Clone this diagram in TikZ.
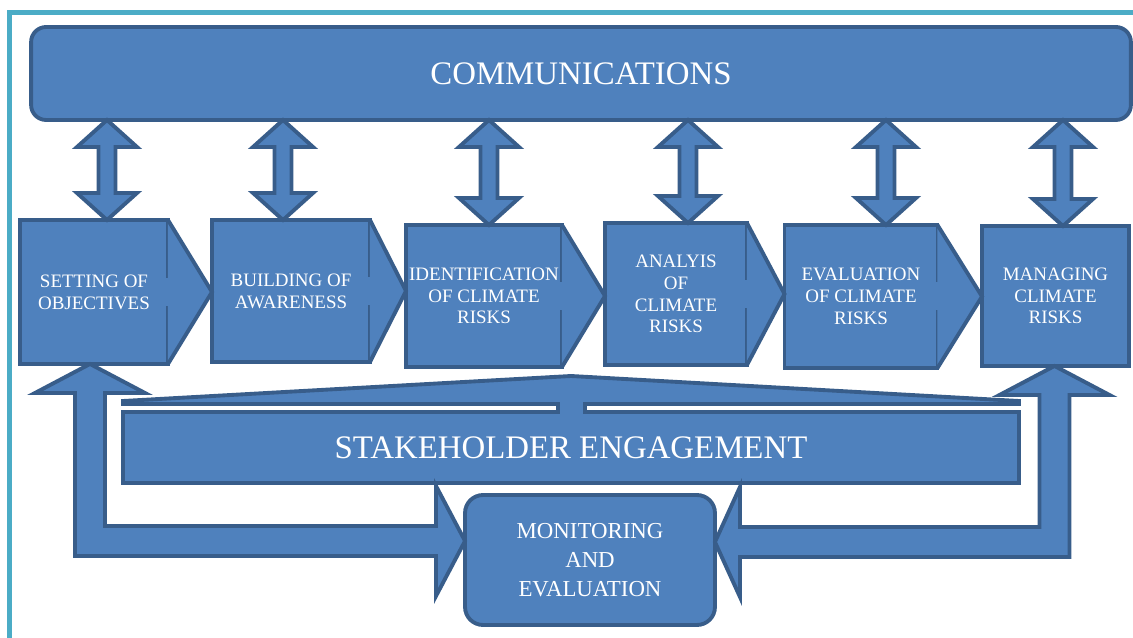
\documentclass[tikz,border=0pt]{standalone}
\usepackage{fontspec}
\setmainfont{Liberation Serif}
\usetikzlibrary{calc}
\definecolor{boxfill}{HTML}{4F81BD}
\definecolor{boxline}{HTML}{385D8A}
\definecolor{frameline}{HTML}{4BACC6}
\tikzset{
  blk/.style={fill=boxfill, draw=boxline, line width=2.2pt},
  title/.style={text=white, font=\fontsize{18.7}{22}\selectfont},
  stepbox/.style={blk, rectangle, inner sep=0pt, outer sep=0pt, align=center,
    text=white, font=\fontsize{10.8}{12.4}\selectfont},
  % double headed block arrow, drawn top tip to bottom tip
  updown/.style={blk, to path={
    let \p1=(\tikztostart), \p2=(\tikztotarget) in
    (\p1) -- ({\x1+0.6cm},{\y1-0.54cm}) -- ({\x1+0.17cm},{\y1-0.54cm})
    -- ({\x1+0.17cm},{\y2+0.54cm}) -- ({\x1+0.6cm},{\y2+0.54cm}) -- (\x1,\y2)
    -- ({\x1-0.6cm},{\y2+0.54cm}) -- ({\x1-0.17cm},{\y2+0.54cm})
    -- ({\x1-0.17cm},{\y1-0.54cm}) -- ({\x1-0.6cm},{\y1-0.54cm}) -- cycle}},
}
\begin{document}
\begin{tikzpicture}[x=0.02cm,y=-0.02cm]
  \useasboundingbox (0,0) rectangle (1133,638);
  \draw[frameline, line width=2.8pt] (9.5,638) -- (9.5,12.5) -- (1133,12.5);

  \node[blk, title, rounded corners=0.3cm, inner sep=0pt, outer sep=0pt,
    minimum width=22cm, minimum height=1.86cm] (comm) at (581,73.5) {COMMUNICATIONS};

  % the six steps
  \node[stepbox, minimum width=2.96cm, minimum height=2.88cm] (obj) at (94,292)
    {SETTING OF\\OBJECTIVES};
  \node[stepbox, minimum width=3.16cm, minimum height=2.84cm] (aware) at (291,291)
    {BUILDING OF\\AWARENESS};
  \node[stepbox, minimum width=3.12cm, minimum height=2.84cm] (ident) at (484,296)
    {IDENTIFICATION\\OF CLIMATE\\RISKS};
  \node[stepbox, minimum width=2.84cm, minimum height=2.84cm] (anal) at (676,294)
    {ANALYIS\\OF\\CLIMATE\\RISKS};
  \node[stepbox, minimum width=3.06cm, minimum height=2.86cm] (eval) at (861,296.5)
    {EVALUATION\\OF CLIMATE\\RISKS};
  \node[stepbox, minimum width=2.94cm, minimum height=2.8cm] (manage) at (1055.5,296)
    {MANAGING\\CLIMATE\\RISKS};

  % heads pointing to the next step
  \begin{scope}
    \draw[blk] (obj.north east) -- (aware.west |- obj.east) -- (obj.south east);
    \draw[blk] (aware.north east) -- (ident.west |- aware.east) -- (aware.south east);
    \draw[blk] (ident.north east) -- (anal.west |- ident.east) -- (ident.south east);
    \draw[blk] (anal.north east) -- (eval.west |- anal.east) -- (anal.south east);
    \draw[blk] (eval.north east) -- (manage.west |- eval.east) -- (eval.south east);
    \fill[boxfill] ($(obj.east)+(-3,-14)$) rectangle ($(obj.east)+(3,14)$);
    \fill[boxfill] ($(aware.east)+(-3,-14)$) rectangle ($(aware.east)+(3,14)$);
    \fill[boxfill] ($(ident.east)+(-3,-14)$) rectangle ($(ident.east)+(3,14)$);
    \fill[boxfill] ($(anal.east)+(-3,-14)$) rectangle ($(anal.east)+(3,14)$);
    \fill[boxfill] ($(eval.east)+(-3,-14)$) rectangle ($(eval.east)+(3,14)$);
  \end{scope}

  % links to communications
  \begin{scope}
    \draw[updown] ($(obj.north |- comm.south)+(13,0)$) to ($(obj.north)+(13,0)$);
    \draw[updown] ($(aware.north |- comm.south)+(-8,0)$) to ($(aware.north)+(-8,0)$);
    \draw[updown] ($(ident.north |- comm.south)+(5,0)$) to ($(ident.north)+(5,0)$);
    \draw[updown] ($(anal.north |- comm.south)+(12,0)$) to ($(anal.north)+(12,0)$);
    \draw[updown] ($(eval.north |- comm.south)+(25,0)$) to ($(eval.north)+(25,0)$);
    \draw[updown] ($(manage.north |- comm.south)+(7.5,0)$) to ($(manage.north)+(7.5,0)$);
  \end{scope}

  % stakeholder bar with its brace
  \draw[blk] (123,483) -- (123,412) -- (558,412) -- (558,404) -- (123,404) -- (123,401)
    -- (571,376) -- (1019,401) -- (1019,404) -- (585,404) -- (585,412) -- (1019,412)
    -- (1019,483) -- cycle;
  \node[title] (stake) at (571,448) {STAKEHOLDER ENGAGEMENT};

  \node[blk, rounded corners=0.36cm, inner sep=0pt, outer sep=0pt, minimum width=5cm,
    minimum height=2.6cm, align=center, text=white,
    font=\fontsize{13}{16.4}\selectfont] (mon) at (590,560) {MONITORING\\AND\\EVALUATION};

  % feedback arrows
  \draw[blk] let \p1=($(obj.south)+(-4,0)$), \p2=($(mon.west)+(0,-19)$) in
    (\p1) -- ({\x1+1.1cm},{\y1-0.58cm}) -- ({\x1+0.3cm},{\y1-0.58cm})
    -- ({\x1+0.3cm},{\y2+0.3cm}) -- ({\x2-0.58cm},{\y2+0.3cm}) -- ({\x2-0.58cm},{\y2+1.1cm})
    -- (\p2) -- ({\x2-0.58cm},{\y2-1.1cm}) -- ({\x2-0.58cm},{\y2-0.3cm})
    -- ({\x1-0.3cm},{\y2-0.3cm}) -- ({\x1-0.3cm},{\y1-0.58cm}) -- ({\x1-1.1cm},{\y1-0.58cm})
    -- cycle;
  \draw[blk] let \p1=($(manage.south)+(-1,0)$), \p2=($(mon.east)+(0,-18)$) in
    (\p1) -- ({\x1+1.1cm},{\y1-0.58cm}) -- ({\x1+0.3cm},{\y1-0.58cm})
    -- ({\x1+0.3cm},{\y2-0.3cm}) -- ({\x2+0.5cm},{\y2-0.3cm}) -- ({\x2+0.5cm},{\y2-1.1cm})
    -- (\p2) -- ({\x2+0.5cm},{\y2+1.1cm}) -- ({\x2+0.5cm},{\y2+0.3cm})
    -- ({\x1-0.3cm},{\y2+0.3cm}) -- ({\x1-0.3cm},{\y1-0.58cm}) -- ({\x1-1.1cm},{\y1-0.58cm})
    -- cycle;
\end{tikzpicture}
\end{document}
